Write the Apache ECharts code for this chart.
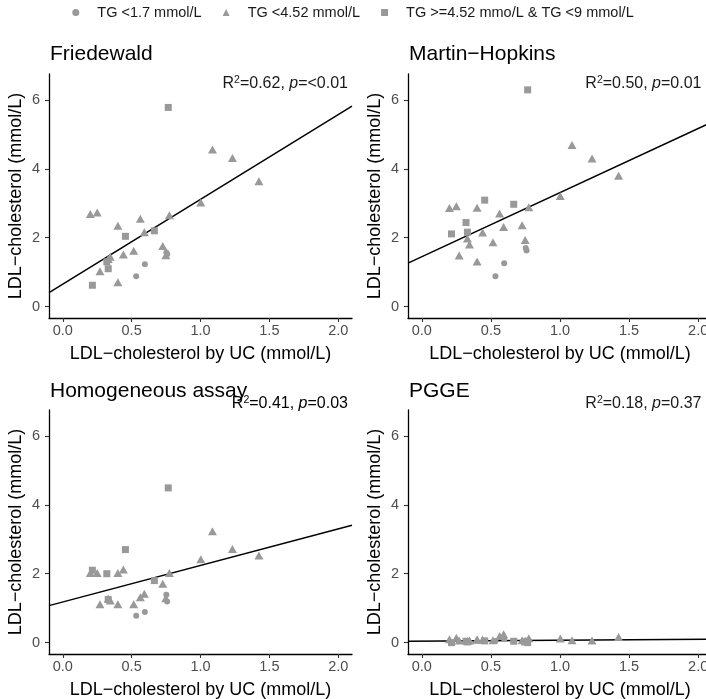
<!DOCTYPE html>
<html>
<head>
<meta charset="utf-8">
<script src="https://cdn.jsdelivr.net/npm/echarts@6/dist/echarts.min.js"></script>
<style>html,body{margin:0;padding:0;background:#fff}#c{width:706px;height:699px}</style>
</head>
<body>
<div id="c"></div>
<script>
// LDL-cholesterol by ultracentrifugation (x) for each subject
const ucX = [0.20,0.215,0.25,0.27,0.32,0.33,0.33,0.345,0.40,0.40,0.44,0.455,0.515,0.533,0.563,0.592,0.596,0.665,0.726,0.748,0.752,0.758,0.766,0.774,1.002,1.087,1.232,1.424];
// 0 = TG <1.7, 1 = TG <4.52, 2 = TG >=4.52 & <9
const tgGroup = [1,2,1,1,2,2,1,1,1,1,1,2,1,0,1,1,0,2,1,1,0,0,2,1,1,1,1,1];
const yFriedewald = [2.69,0.62,2.73,1.03,1.30,1.10,1.38,1.45,2.35,0.71,1.51,2.04,1.62,0.88,2.55,2.16,1.23,2.20,1.76,1.49,1.57,1.52,5.78,2.65,3.02,4.56,4.31,3.64];
const yMartinHopkins = [2.86,2.11,2.91,1.48,2.44,2.16,1.98,1.80,2.87,1.31,2.15,3.09,1.87,0.88,2.70,2.31,1.26,2.97,2.36,1.93,1.70,1.63,6.29,2.88,3.21,4.69,4.30,3.80];
const yHomogeneous = [2.02,2.10,2.02,1.11,2.00,1.25,1.28,1.22,2.02,1.11,2.12,2.70,1.11,0.78,1.32,1.42,0.89,1.80,1.71,1.29,1.39,1.19,4.49,2.02,2.42,3.23,2.72,2.53];
const yPGGE = [0.10,0.00,0.14,0.06,0.04,0.02,0.05,0.06,0.09,0.08,0.09,0.05,0.07,0.05,0.19,0.24,0.10,0.04,0.07,0.03,0.06,0.04,0.00,0.13,0.12,0.07,0.06,0.16];
const fitIntercepts = [0.65,1.45,1.18,0.043];
const fitSlopes = [2.46,1.86,1.06,0.028];
const panelTitles = ['Friedewald','Martin\u2212Hopkins','Homogeneous assay','PGGE'];
const r2Values = ['0.62','0.50','0.41','0.18'];
const pValues = ['<0.01','0.01','0.03','0.37'];
const groupNames = ['TG <1.7 mmol/L','TG <4.52 mmol/L','TG >=4.52 mmo/L & TG <9 mmol/L'];
const xTicks = [0,0.5,1,1.5,2];
const yTicks = [0,2,4,6];
const xTitle = 'LDL\u2212cholesterol by UC (mmol/L)';
const yTitle = 'LDL\u2212cholesterol (mmol/L)';

const FONT = '"Liberation Sans", Arial, Helvetica, sans-serif';
const panelY = [yFriedewald, yMartinHopkins, yHomogeneous, yPGGE];
const grids = [
  {left:49, top:74, width:303, height:244, outerBoundsMode:'none'},
  {left:408, top:74, width:304, height:244, outerBoundsMode:'none'},
  {left:49, top:410, width:303, height:244, outerBoundsMode:'none'},
  {left:408, top:410, width:304, height:244, outerBoundsMode:'none'}
];
const symbols = ['circle','triangle','rect'];
const symSizes = [6,[9,8],7];
const ptColor = '#999999';

const xAxes = [], yAxes = [], series = [], titles = [];
grids.forEach((g,i)=>{
  xAxes.push({
    gridIndex:i, type:'value', min:-0.1, max:2.1,
    name:xTitle, nameLocation:'middle', nameGap:27,
    nameTextStyle:{fontFamily:FONT, fontSize:18, color:'#000'},
    axisLine:{show:true, onZero:false, lineStyle:{color:'#000', width:1.3}},
    axisTick:{show:true, length:4, customValues:xTicks, lineStyle:{color:'#333', width:1.1}},
    axisLabel:{customValues:xTicks, margin:5, fontFamily:FONT, fontSize:14.5, color:'#4d4d4d',
      formatter:v=>v.toFixed(1)},
    splitLine:{show:false}
  });
  yAxes.push({
    gridIndex:i, type:'value', min:-0.33, max:6.75,
    name:yTitle, nameLocation:'middle', nameGap:24,
    nameTextStyle:{fontFamily:FONT, fontSize:18, color:'#000'},
    axisLine:{show:true, onZero:false, lineStyle:{color:'#000', width:1.3}},
    axisTick:{show:true, length:4, customValues:yTicks, lineStyle:{color:'#333', width:1.1}},
    axisLabel:{customValues:yTicks, margin:9, fontFamily:FONT, fontSize:14.5, color:'#4d4d4d'},
    splitLine:{show:false}
  });
  const ys = panelY[i];
  series.push({
    type:'line', xAxisIndex:i, yAxisIndex:i, name:'fit'+i, silent:true, symbol:'none',
    clip:true, z:1,
    lineStyle:{color:'#000', width:1.5},
    data:[[-0.1, fitIntercepts[i]+fitSlopes[i]*-0.1],[2.1, fitIntercepts[i]+fitSlopes[i]*2.1]]
  });
  for (let gI=0; gI<3; gI++){
    const d=[];
    ucX.forEach((x,k)=>{ if(tgGroup[k]===gI) d.push([x, ys[k]]); });
    series.push({
      type:'scatter', xAxisIndex:i, yAxisIndex:i, name:groupNames[gI],
      symbol:symbols[gI], symbolSize:symSizes[gI], z:2,
      itemStyle:{color:ptColor, opacity:1},
      data:d
    });
  }
  const bottomRow = i>=2;
  titles.push({
    text:panelTitles[i], left:g.left+1, top: bottomRow ? g.top-29 : g.top-30, padding:0,
    textStyle:{fontFamily:FONT, fontSize:21, fontWeight:'normal', color:'#000'}
  });
  const tc = i===2 ? '#000' : '#1a1a1a';
  titles.push({
    text:'R{sup|2}=' + r2Values[i] + ', {it|p}=' + pValues[i],
    right: (i%2===0) ? 706-348 : 4.5,
    top: bottomRow ? g.top-15 : g.top+1,
    padding:0,
    textStyle:{fontFamily:FONT, fontSize:16, fontWeight:'normal', color:tc, lineHeight:18,
      rich:{
        sup:{fontFamily:FONT, fontSize:10.5, color:tc, verticalAlign:'top', lineHeight:18},
        it:{fontFamily:FONT, fontSize:16, fontStyle:'italic', color:tc, lineHeight:18}
      }}
  });
});

const chart = echarts.init(document.getElementById('c'), null, {renderer:'canvas'});
chart.setOption({
  backgroundColor:'#fff',
  animation:false,
  title:titles,
  legend:{
    data:groupNames.map((n,k)=>({name:n, icon:symbols[k]})),
    top:5, left:'center', padding:0, itemWidth:7, itemHeight:7, itemGap:21,
    textStyle:{fontFamily:FONT, fontSize:14.5, color:'#1a1a1a', padding:[0,0,0,13]},
    selectedMode:false
  },
  grid:grids,
  xAxis:xAxes,
  yAxis:yAxes,
  series:series
});
</script>
</body>
</html>
